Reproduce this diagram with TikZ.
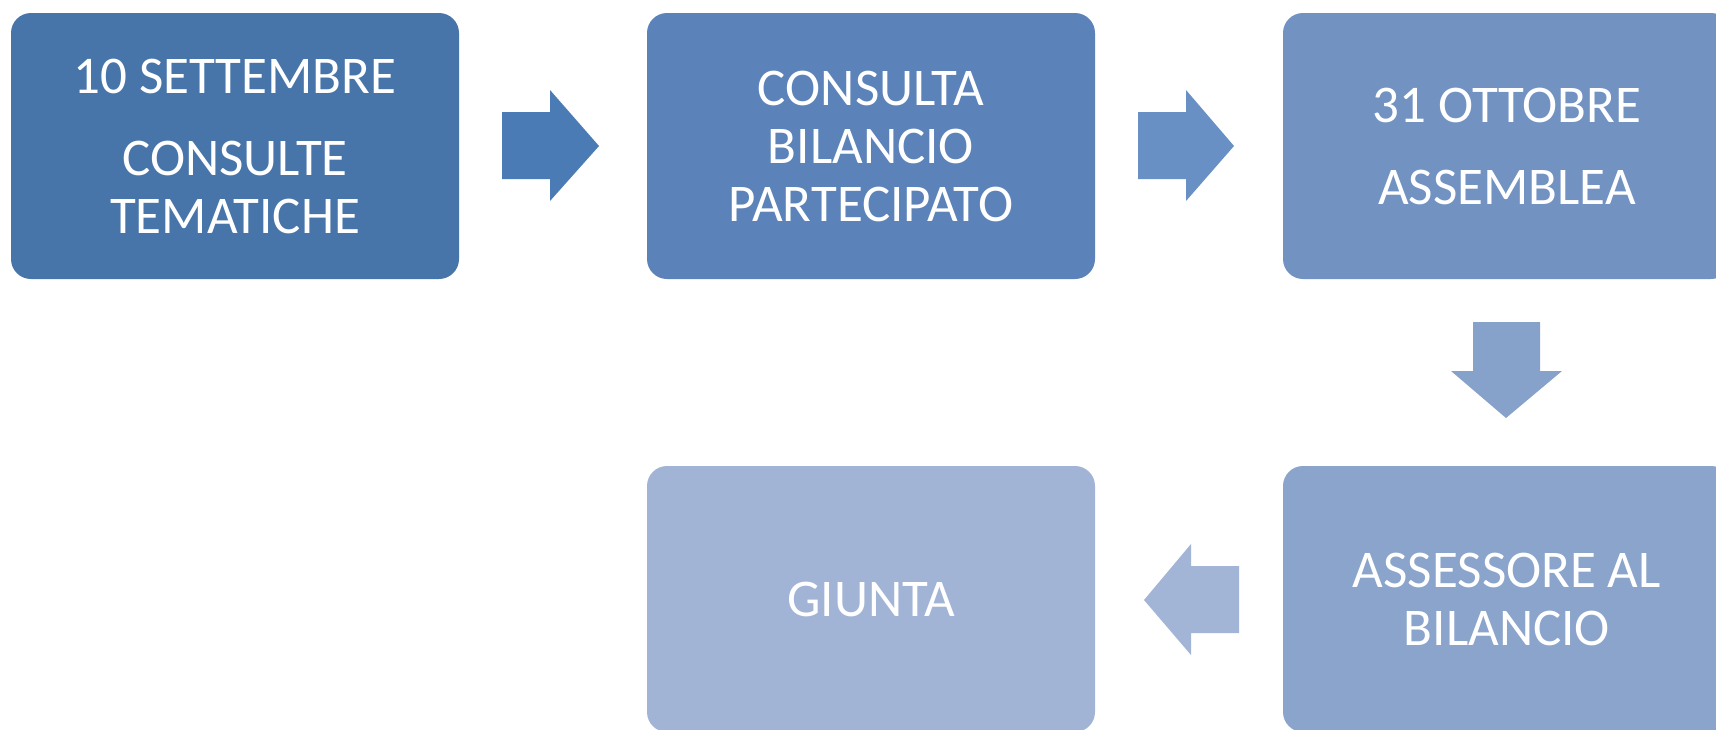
\documentclass[tikz,border=0pt]{standalone}
\usepackage{fontspec}
\setmainfont{Carlito}
\definecolor{cA}{HTML}{4775AA}
\definecolor{cB}{HTML}{5B83BA}
\definecolor{cC}{HTML}{7292C2}
\definecolor{cD}{HTML}{8AA4CB}
\definecolor{cE}{HTML}{A2B4D5}
\definecolor{aA}{HTML}{4B7BB4}
\definecolor{aB}{HTML}{6890C4}
\definecolor{aC}{HTML}{86A2CA}
\definecolor{aD}{HTML}{A3B5D6}
\begin{document}
\begin{tikzpicture}[x=1pt,y=-1pt,
  stagebox/.style={rectangle,rounded corners=20pt,minimum width=448pt,minimum height=266pt,
    inner sep=0pt,text=white,align=center,font=\fontsize{53}{58}\selectfont},
  blockarrow/.style={draw=none}]
\useasboundingbox (0,0) rectangle (1716,729);
\clip (0,0) rectangle (1716,729);
\fill[white] (0,0) rectangle (1716,729);
\node[stagebox,fill=cA] (s1) at (235,146) {10 SETTEMBRE\\[24pt]CONSULTE\\TEMATICHE};
\node[stagebox,fill=cB] (s2) at (871,146) {CONSULTA\\BILANCIO\\PARTECIPATO};
\node[stagebox,fill=cC] (s3) at (1507,146) {31 OTTOBRE\\[24pt]ASSEMBLEA};
\node[stagebox,fill=cD] (s4) at (1507,599) {ASSESSORE AL\\BILANCIO};
\node[stagebox,fill=cE] (s5) at (871,599) {GIUNTA};
\fill[blockarrow,aA] (502,112) -- (550,112) -- (550,90) -- (599,146) -- (550,201) -- (550,179) -- (502,179) -- cycle;
\fill[blockarrow,aB] (1138,112) -- (1186,112) -- (1186,90) -- (1234,146) -- (1186,201) -- (1186,179) -- (1138,179) -- cycle;
\fill[blockarrow,aC] (1473,322) -- (1540,322) -- (1540,371) -- (1562,371) -- (1506,418) -- (1451,371) -- (1473,371) -- cycle;
\fill[blockarrow,aD] (1239,566) -- (1191,566) -- (1191,544) -- (1144,600) -- (1191,655) -- (1191,633) -- (1239,633) -- cycle;
\end{tikzpicture}
\end{document}
